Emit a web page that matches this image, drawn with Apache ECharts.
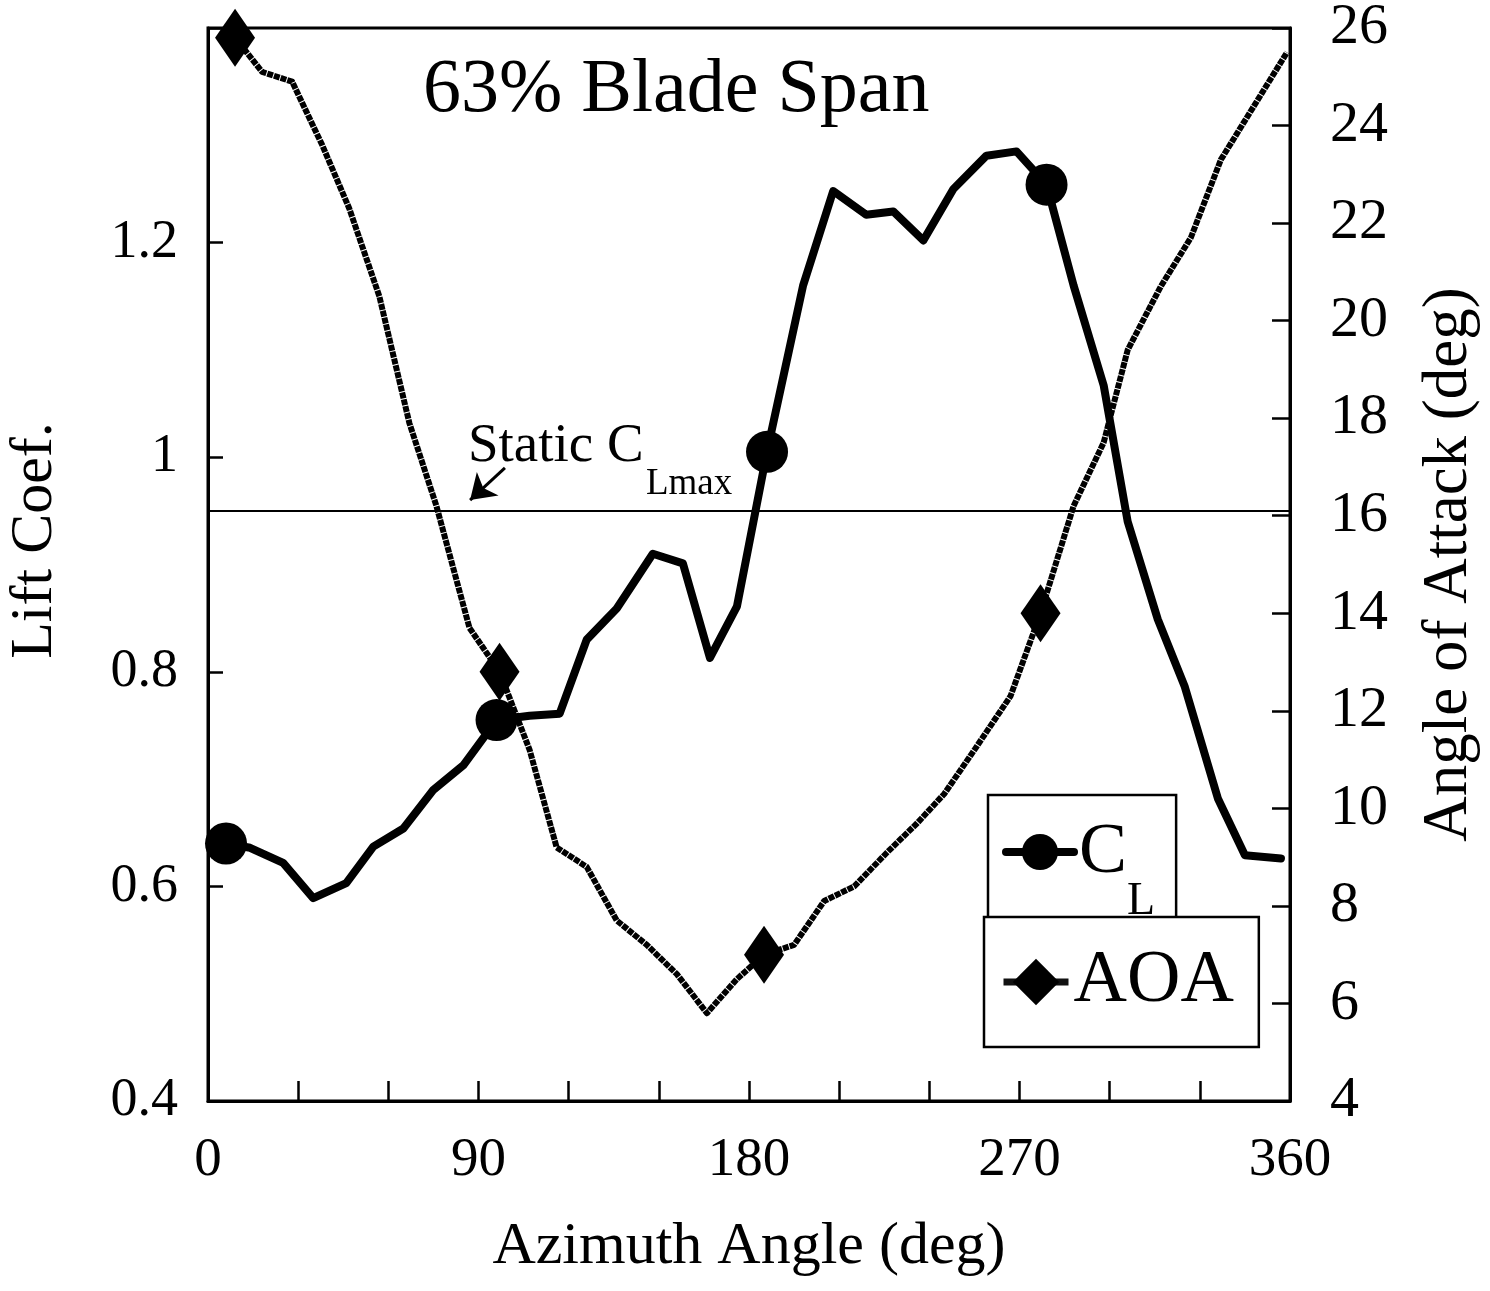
<!DOCTYPE html>
<html>
<head>
<meta charset="utf-8">
<script src="https://cdn.jsdelivr.net/npm/echarts@6/dist/echarts.min.js"></script>
<style>
html,body{margin:0;padding:0;background:#fff;}
#chart{width:1490px;height:1291px;}
</style>
</head>
<body>
<div id="chart"></div>
<script>
// ---- data ----
const clAzimuth = [6,14,25,35,46,55,65,75,85,96,107,117,126,136,148,158,167,176,186,198,208,219,228,238,248,259,269,279,288,298,306,316,325,336,345,357];
const clValues  = [0.640,0.636,0.622,0.589,0.603,0.637,0.654,0.690,0.713,0.755,0.759,0.761,0.830,0.859,0.910,0.901,0.813,0.861,1.005,1.160,1.248,1.226,1.229,1.202,1.250,1.281,1.285,1.254,1.160,1.067,0.940,0.849,0.786,0.682,0.629,0.626];
const aoaAzimuth = [9,18,28,38,47,57,67,76,87,97,107,116,126,136,146,156,166,176,185,195,205,215,226,236,245,255,267,277,288,298,306,317,327,337,348,359];
const aoaValues  = [25.8,25.1,24.9,23.6,22.3,20.5,17.9,16.2,13.7,12.8,11.2,9.2,8.8,7.7,7.2,6.6,5.8,6.5,7.0,7.2,8.1,8.4,9.1,9.7,10.3,11.2,12.3,14.0,16.2,17.5,19.4,20.7,21.7,23.3,24.4,25.5];
const markerIdx = [0,9,18,27];
const staticClMax = 0.95;
const xTickLabels = [0,90,180,270,360];
const arrowFrom = [98.8, 0.990];
const arrowTo   = [87.2, 0.960];
const staticLabelPos = [86.5, 1.010];
const staticSubPos   = [145.7, 0.975];

const FONT = '"Liberation Serif", "Times New Roman", serif';

function pts(xs, ys) {
  return xs.map((x, i) => markerIdx.includes(i) ? [x, ys[i]] : { value: [x, ys[i]], symbol: 'none' });
}

const chart = echarts.init(document.getElementById('chart'), null, { renderer: 'canvas' });

const option = {
  animation: false,
  backgroundColor: '#fff',
  title: {
    text: '63% Blade Span',
    left: 418, top: 48,
    textStyle: { fontFamily: FONT, fontSize: 76, fontWeight: 'normal', color: '#000' }
  },
  grid: {
    left: 208, right: 200, top: 28, bottom: 190,
    show: true, borderColor: '#000', borderWidth: 3, backgroundColor: 'transparent',
    outerBoundsMode: 'none'
  },
  legend: [
    {
      data: ['CL'], left: 988, top: 795, orient: 'vertical',
      itemWidth: 68, itemHeight: 45, itemGap: 0,
      padding: [22, 21, 0, 14],
      borderColor: '#000', borderWidth: 2.5, backgroundColor: '#fff',
      selectedMode: false,
      lineStyle: { color: '#000', width: 8, type: 'solid' },
      formatter: () => '{c|C}{l|L}',
      textStyle: {
        color: '#000', fontFamily: FONT,
        rich: {
          c: { fontFamily: FONT, fontSize: 72, lineHeight: 70, padding: [0, 0, 36, 0], verticalAlign: 'top', color: '#000' },
          l: { fontFamily: FONT, fontSize: 46, lineHeight: 44, padding: [62, 0, 0, 0], verticalAlign: 'top', color: '#000' }
        }
      }
    },
    {
      data: ['AOA'], left: 984, top: 917, orient: 'vertical',
      itemWidth: 65, itemHeight: 58, itemGap: 0,
      padding: [28, 25, 28, 16],
      borderColor: '#000', borderWidth: 2.5, backgroundColor: '#fff',
      selectedMode: false,
      lineStyle: { color: '#111', width: 7, type: 'solid' },
      textStyle: { fontFamily: FONT, fontSize: 74, lineHeight: 72, color: '#000' }
    }
  ],
  xAxis: {
    type: 'value', min: 0, max: 360, interval: 30,
    name: 'Azimuth Angle (deg)', nameLocation: 'middle', nameGap: 116,
    nameTextStyle: { fontFamily: FONT, fontSize: 60, color: '#000' },
    axisLine: { show: true, onZero: false, lineStyle: { color: '#000', width: 3 } },
    axisTick: { show: true, inside: true, length: 20, lineStyle: { color: '#000', width: 2.5 } },
    axisLabel: {
      fontFamily: FONT, fontSize: 55, color: '#000', margin: 32,
      showMinLabel: true, showMaxLabel: true,
      formatter: v => xTickLabels.includes(v) ? String(v) : ''
    },
    splitLine: { show: false }
  },
  yAxis: [
    {
      type: 'value', position: 'left', min: 0.4, max: 1.4, interval: 0.2,
      name: 'Lift Coef.', nameLocation: 'middle', nameGap: 143, nameRotate: 90,
      nameTextStyle: { fontFamily: FONT, fontSize: 60, color: '#000', padding: [0, 0, 0, 48] },
      axisLine: { show: true, onZero: false, lineStyle: { color: '#000', width: 3 } },
      axisTick: { show: true, inside: true, length: 15, lineStyle: { color: '#000', width: 2.5 } },
      axisLabel: {
        fontFamily: FONT, fontSize: 54, color: '#000', margin: 30,
        formatter: v => v > 1.3 ? '' : String(+v.toFixed(1))
      },
      splitLine: { show: false }
    },
    {
      type: 'value', position: 'right', min: 4, max: 26, interval: 2,
      name: 'Angle of Attack (deg)', nameLocation: 'middle', nameGap: 128, nameRotate: 90,
      nameTextStyle: { fontFamily: FONT, fontSize: 63, color: '#000' },
      axisLine: { show: true, onZero: false, lineStyle: { color: '#000', width: 3 } },
      axisTick: { show: true, inside: true, length: 18, lineStyle: { color: '#000', width: 2.5 } },
      axisLabel: { fontFamily: FONT, fontSize: 58, color: '#000', margin: 40 },
      splitLine: { show: false }
    }
  ],
  series: [
    {
      name: 'AOA', type: 'line', yAxisIndex: 1,
      data: pts(aoaAzimuth, aoaValues),
      symbol: 'diamond', symbolSize: [40, 58],
      lineStyle: { color: '#000', width: 6, type: [6, 1], join: 'round' },
      itemStyle: { color: '#000' },
      emphasis: { disabled: true },
      z: 3
    },
    {
      name: 'CL', type: 'line', yAxisIndex: 0,
      data: pts(clAzimuth, clValues),
      symbol: 'circle', symbolSize: 42,
      lineStyle: { color: '#000', width: 8, join: 'round', cap: 'round' },
      itemStyle: { color: '#000' },
      emphasis: { disabled: true },
      z: 4,
      markLine: {
        silent: true, animation: false,
        symbol: ['none', 'none'],
        label: { show: false },
        lineStyle: { color: '#000', width: 2, type: 'solid' },
        emphasis: { disabled: true },
        data: [
          { yAxis: staticClMax },
          [
            { coord: arrowFrom, symbol: 'none', lineStyle: { color: '#000', width: 3, type: 'solid' } },
            { coord: arrowTo, symbol: 'arrow', symbolSize: 24, lineStyle: { color: '#000', width: 3, type: 'solid' } }
          ]
        ]
      }
    }
  ]
};

chart.setOption(option);

const p1 = chart.convertToPixel({ xAxisIndex: 0, yAxisIndex: 0 }, staticLabelPos);
const p2 = chart.convertToPixel({ xAxisIndex: 0, yAxisIndex: 0 }, staticSubPos);
chart.setOption({
  graphic: [
    { type: 'text', x: p1[0], y: p1[1], z: 10,
      style: { text: 'Static C', font: '55px ' + FONT, fill: '#000', verticalAlign: 'middle', textVerticalAlign: 'middle', align: 'left', textAlign: 'left' } },
    { type: 'text', x: p2[0], y: p2[1], z: 10,
      style: { text: 'Lmax', font: '37px ' + FONT, fill: '#000', verticalAlign: 'middle', textVerticalAlign: 'middle', align: 'left', textAlign: 'left' } }
  ]
});
</script>
</body>
</html>
